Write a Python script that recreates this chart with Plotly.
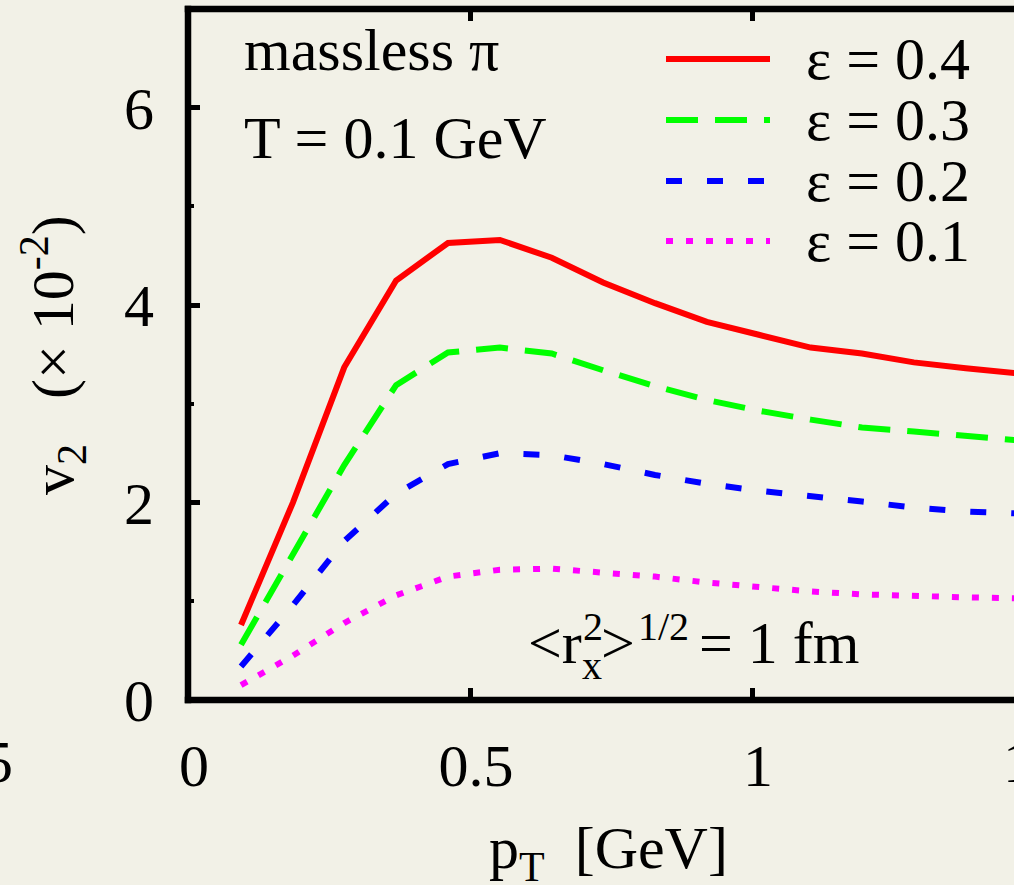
import plotly.graph_objects as go

# ---------------- data ----------------
pT = [0.094, 0.186, 0.277, 0.369, 0.461, 0.553, 0.645, 0.736, 0.828, 0.920,
      1.012, 1.104, 1.195, 1.287, 1.379, 1.471]
v2_eps04 = [0.76, 2.00, 3.37, 4.25, 4.63, 4.66, 4.48, 4.23, 4.02, 3.83,
            3.70, 3.57, 3.51, 3.42, 3.36, 3.31]
v2_eps03 = [0.56, 1.47, 2.38, 3.19, 3.52, 3.57, 3.51, 3.34, 3.18, 3.04,
            2.93, 2.84, 2.76, 2.72, 2.67, 2.63]
v2_eps02 = [0.34, 0.96, 1.61, 2.09, 2.39, 2.50, 2.48, 2.39, 2.28, 2.19,
            2.12, 2.07, 2.01, 1.95, 1.91, 1.89]
v2_eps01 = [0.15, 0.45, 0.78, 1.06, 1.25, 1.32, 1.33, 1.29, 1.25, 1.19,
            1.14, 1.10, 1.07, 1.05, 1.04, 1.03]
series_labels = ["ε = 0.4", "ε = 0.3", "ε = 0.2", "ε = 0.1"]
x_tickvals = [0, 0.5, 1]
x_ticktext = ["0", "0.5", "1"]
y_tickvals = [0, 2, 4, 6]
y_ticktext = ["0", "2", "4", "6"]

# ---------------- styling ----------------
W, H = 1014, 885
L, R, T, B = 188, 0, 9, 185
PW, PH = W - L - R, H - T - B
FONT = "Liberation Serif"
BG = "#f2f1e7"
LW = 6
styles = [
    dict(color="#ff0000", dash="solid"),
    dict(color="#00ff00", dash="32px,17px"),
    dict(color="#0000ff", dash="16px,25px"),
    dict(color="#ff00ff", dash="7px,13px"),
]


def px_x(px):
    return (px - L) / PW


def px_y(py):
    return (H - B - py) / PH


fig = go.Figure()
for ys, lab, st in zip([v2_eps04, v2_eps03, v2_eps02, v2_eps01], series_labels, styles):
    fig.add_trace(go.Scatter(x=pT, y=ys, mode="lines", name=lab,
                             line=dict(color=st["color"], width=LW, dash=st["dash"]),
                             showlegend=False))

shapes = []
# frame lines (left, bottom, top)
fw = 6.5
shapes.append(dict(type="line", xref="paper", yref="paper", x0=0, x1=0,
                   y0=px_y(H - B + fw / 2), y1=px_y(T - fw / 2),
                   line=dict(color="black", width=fw), layer="above"))
for yy in (0, 1):
    shapes.append(dict(type="line", xref="paper", yref="paper",
                       x0=px_x(L - fw / 2), x1=1.01, y0=yy, y1=yy,
                       line=dict(color="black", width=fw), layer="above"))

# manual legend
leg_y = [59, 120, 181, 241]
annotations = []
for lab, st, yy in zip(series_labels, styles, leg_y):
    shapes.append(dict(type="line", xref="paper", yref="paper",
                       x0=px_x(666), x1=px_x(770), y0=px_y(yy), y1=px_y(yy),
                       line=dict(color=st["color"], width=LW, dash=st["dash"])))
    annotations.append(dict(text=lab, xref="paper", yref="paper",
                            x=px_x(804), y=px_y(yy), xanchor="left", yanchor="middle",
                            showarrow=False, font=dict(family=FONT, size=60, color="black")))


def txt(s, x, y, size=60, xanchor="left", yanchor="middle", angle=0):
    annotations.append(dict(text=s, xref="paper", yref="paper", x=px_x(x), y=px_y(y),
                            xanchor=xanchor, yanchor=yanchor, showarrow=False,
                            textangle=angle,
                            font=dict(family=FONT, size=size, color="black")))


txt("massless π", 242, 50)
txt("T = 0.1 GeV", 242, 138)
# <r_x^2>^{1/2} = 1 fm
txt("&lt;r", 526, 643)
txt("2", 581, 626, size=40)
txt("x", 580, 665, size=40)
txt("&gt;", 599, 643)
txt("1/2", 636, 626, size=40)
txt("= 1 fm", 697, 643)
# axis titles
txt("v<sub>2</sub>&nbsp;&nbsp;&nbsp;(× 10<sup>-2</sup>)", 53, 355, xanchor="center", angle=-90)
txt("p<sub>T</sub>&nbsp;&nbsp;[GeV]", 608, 852, xanchor="center")
# partial tick labels of neighbouring range / panel
txt("1.5", 15, 762, xanchor="right")
txt("1.5", 1040, 762, xanchor="center")

fig.update_layout(
    width=W, height=H,
    margin=dict(l=L, r=R, t=T, b=B, pad=0),
    paper_bgcolor=BG, plot_bgcolor=BG,
    shapes=shapes, annotations=annotations,
    font=dict(family=FONT, size=60, color="black"),
    xaxis=dict(range=[0, PW / 564.0], showgrid=False, zeroline=False, showline=False,
               tickmode="array", tickvals=x_tickvals, ticktext=x_ticktext,
               ticks="inside", ticklen=12, tickwidth=5, tickcolor="black",
               mirror="ticks", ticklabelstandoff=25, ticklabelshift=6,
               tickfont=dict(family=FONT, size=60, color="black")),
    yaxis=dict(range=[0, 7], showgrid=False, zeroline=False, showline=False,
               tickmode="array", tickvals=y_tickvals, ticktext=y_ticktext,
               ticks="inside", ticklen=12, tickwidth=5, tickcolor="black",
               minor=dict(tickvals=[1, 3, 5], ticks="inside", ticklen=6,
                          tickwidth=4, tickcolor="black"),
               ticklabelstandoff=33,
               tickfont=dict(family=FONT, size=60, color="black")),
)

fig.write_html("out.html")
